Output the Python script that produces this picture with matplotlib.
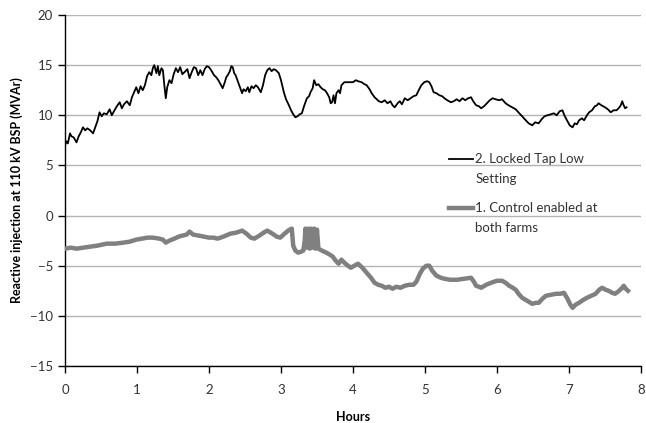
import matplotlib
matplotlib.use("Agg")
import matplotlib.pyplot as plt
from matplotlib.legend_handler import HandlerLine2D

# series 2: locked tap, low setting
locked_h = [0.00, 0.02, 0.04, 0.07, 0.09, 0.12, 0.16, 0.19, 0.22, 0.25, 0.28, 0.31, 0.35, 0.39,
            0.42, 0.45, 0.48, 0.51, 0.54, 0.58, 0.62, 0.65, 0.68, 0.72, 0.76, 0.79, 0.82, 0.86,
            0.90, 0.93, 0.96, 0.99, 1.02, 1.05, 1.08, 1.11, 1.14, 1.17, 1.20, 1.22, 1.24, 1.27,
            1.29, 1.31, 1.34, 1.36, 1.38, 1.40, 1.42, 1.45, 1.48, 1.51, 1.54, 1.57, 1.60, 1.63,
            1.66, 1.70, 1.73, 1.76, 1.79, 1.82, 1.85, 1.88, 1.91, 1.94, 1.97, 2.00, 2.03, 2.07,
            2.10, 2.13, 2.16, 2.19, 2.22, 2.24, 2.26, 2.29, 2.31, 2.33, 2.35, 2.37, 2.40, 2.43,
            2.46, 2.48, 2.51, 2.54, 2.56, 2.59, 2.62, 2.65, 2.68, 2.72, 2.75, 2.78, 2.81, 2.84,
            2.87, 2.90, 2.93, 2.97, 3.00, 3.04, 3.07, 3.11, 3.14, 3.17, 3.20, 3.23, 3.26, 3.29,
            3.32, 3.36, 3.39, 3.41, 3.44, 3.46, 3.49, 3.52, 3.55, 3.58, 3.61, 3.64, 3.67, 3.69,
            3.71, 3.73, 3.75, 3.77, 3.80, 3.82, 3.84, 3.88, 3.91, 3.95, 4.00, 4.04, 4.07, 4.12,
            4.16, 4.19, 4.23, 4.26, 4.30, 4.33, 4.36, 4.40, 4.44, 4.48, 4.52, 4.55, 4.58, 4.62,
            4.65, 4.68, 4.72, 4.76, 4.80, 4.84, 4.88, 4.92, 4.95, 4.99, 5.03, 5.06, 5.09, 5.12,
            5.16, 5.20, 5.24, 5.27, 5.31, 5.36, 5.40, 5.44, 5.48, 5.52, 5.56, 5.60, 5.64, 5.67,
            5.71, 5.75, 5.78, 5.82, 5.86, 5.90, 5.94, 5.98, 6.03, 6.07, 6.12, 6.16, 6.21, 6.26,
            6.31, 6.35, 6.40, 6.44, 6.49, 6.53, 6.58, 6.62, 6.66, 6.70, 6.75, 6.79, 6.83, 6.87,
            6.91, 6.93, 6.95, 6.98, 7.01, 7.05, 7.08, 7.11, 7.14, 7.18, 7.21, 7.25, 7.28, 7.32,
            7.36, 7.39, 7.41, 7.45, 7.50, 7.54, 7.58, 7.62, 7.66, 7.69, 7.72, 7.74, 7.76, 7.78,
            7.80]
locked_q = [7.0, 7.4, 7.2, 8.2, 7.9, 7.8, 7.3, 7.9, 8.3, 8.8, 8.5, 8.7, 8.5, 8.2,
            8.8, 9.4, 10.3, 9.9, 10.2, 10.1, 10.6, 10.0, 10.4, 10.9, 11.3, 10.7, 11.1, 11.4,
            11.0, 11.8, 12.3, 12.8, 12.2, 12.9, 12.5, 13.0, 13.9, 14.3, 14.0, 14.7, 15.0, 14.2,
            14.9, 14.0, 14.7, 14.5, 13.0, 11.7, 12.8, 13.5, 13.2, 14.1, 14.7, 14.3, 14.8, 14.1,
            14.3, 14.6, 13.7, 14.3, 14.8, 14.7, 14.0, 14.5, 14.0, 14.6, 14.9, 14.8, 14.5, 14.0,
            13.8, 13.5, 13.1, 12.7, 13.3, 13.8, 14.0, 14.4, 14.9, 14.8, 14.2, 14.0, 13.4, 12.8,
            12.2, 12.6, 12.4, 12.8, 12.3, 12.9, 12.7, 13.0, 12.8, 12.3, 13.0, 14.0, 14.5, 14.7,
            14.4, 14.6, 14.5, 14.2, 13.5, 12.3, 11.6, 11.0, 10.5, 10.1, 9.8, 9.9, 10.1, 10.2,
            10.9, 11.7, 11.9, 12.3, 12.7, 13.5, 13.0, 13.1, 12.8, 12.6, 12.5, 12.2, 11.8, 11.2,
            11.3, 12.0, 11.2, 12.2, 12.5, 12.2, 13.0, 13.3, 13.3, 13.3, 13.3, 13.5, 13.4, 13.3,
            13.1, 13.0, 12.6, 12.2, 11.8, 11.6, 11.4, 11.3, 11.5, 11.2, 11.4, 11.0, 10.8, 11.2,
            11.4, 11.1, 11.7, 11.5, 11.7, 11.9, 12.0, 12.6, 13.0, 13.3, 13.4, 13.3, 12.9, 12.3,
            12.2, 12.0, 11.9, 11.7, 11.5, 11.3, 11.4, 11.6, 11.4, 11.7, 11.5, 11.7, 11.8, 11.4,
            11.0, 10.9, 10.7, 10.9, 11.2, 11.5, 11.7, 11.6, 11.5, 11.6, 11.2, 11.0, 10.8, 10.6,
            10.2, 9.9, 9.5, 9.2, 9.0, 9.3, 9.2, 9.6, 9.9, 10.0, 10.1, 10.2, 10.0, 10.4,
            10.5, 10.1, 9.8, 9.4, 9.0, 8.8, 9.2, 9.1, 9.5, 9.7, 9.5, 10.0, 10.3, 10.5,
            10.9, 11.0, 11.2, 11.0, 10.8, 10.6, 10.3, 10.5, 10.5, 10.7, 11.0, 11.4, 11.0, 10.7,
            10.8]

# series 1: control enabled at both farms
control_h = [0.00, 0.08, 0.16, 0.25, 0.35, 0.45, 0.58, 0.70, 0.81, 0.90, 0.99, 1.07, 1.15, 1.22,
             1.31, 1.36, 1.40, 1.45, 1.52, 1.58, 1.63, 1.69, 1.73, 1.78, 1.86, 1.93, 2.00, 2.06,
             2.12, 2.20, 2.30, 2.38, 2.46, 2.52, 2.58, 2.63, 2.70, 2.76, 2.81, 2.88, 2.94, 2.99,
             3.05, 3.10, 3.15, 3.17, 3.20, 3.24, 3.28, 3.31, 3.33, 3.34, 3.36, 3.38, 3.40, 3.42,
             3.44, 3.46, 3.48, 3.50, 3.52, 3.57, 3.63, 3.68, 3.72, 3.76, 3.80, 3.84, 3.88, 3.93,
             3.97, 4.02, 4.07, 4.13, 4.19, 4.25, 4.30, 4.35, 4.40, 4.45, 4.50, 4.55, 4.60, 4.66,
             4.72, 4.78, 4.84, 4.88, 4.93, 4.97, 5.02, 5.06, 5.10, 5.16, 5.22, 5.27, 5.35, 5.45,
             5.55, 5.64, 5.68, 5.71, 5.75, 5.78, 5.85, 5.92, 6.00, 6.07, 6.12, 6.17, 6.22, 6.26,
             6.30, 6.35, 6.42, 6.49, 6.54, 6.58, 6.63, 6.68, 6.75, 6.82, 6.88, 6.93, 6.98, 7.02,
             7.05, 7.09, 7.14, 7.20, 7.25, 7.31, 7.37, 7.42, 7.46, 7.51, 7.55, 7.60, 7.64, 7.68,
             7.71, 7.74, 7.76, 7.79, 7.82]
control_q = [-3.3, -3.2, -3.3, -3.2, -3.1, -3.0, -2.8, -2.8, -2.7, -2.6, -2.4, -2.3, -2.2, -2.2,
             -2.3, -2.4, -2.7, -2.5, -2.3, -2.1, -2.0, -1.9, -1.6, -1.9, -2.0, -2.1, -2.2, -2.2,
             -2.3, -2.1, -1.8, -1.7, -1.5, -1.8, -2.2, -2.3, -2.0, -1.7, -1.5, -1.8, -2.1, -2.2,
             -1.8, -1.5, -1.3, -3.0, -3.5, -3.7, -3.6, -3.5, -2.5, -1.3, -3.2, -1.3, -3.3, -1.3,
             -3.2, -1.3, -3.3, -1.4, -3.3, -3.5, -3.7, -3.9, -4.1, -4.5, -4.8, -4.4, -4.7, -5.0,
             -5.2, -5.0, -4.8, -5.2, -5.7, -6.2, -6.7, -6.9, -7.0, -7.2, -7.1, -7.3, -7.1, -7.2,
             -7.0, -6.9, -6.9, -6.6, -5.8, -5.3, -5.0, -5.0, -5.5, -6.0, -6.2, -6.3, -6.4, -6.4,
             -6.3, -6.2, -6.6, -7.0, -7.1, -7.2, -6.9, -6.7, -6.5, -6.5, -6.7, -7.0, -7.2, -7.4,
             -7.8, -8.2, -8.5, -8.8, -8.7, -8.7, -8.3, -8.0, -7.9, -7.8, -7.8, -7.7, -8.3, -8.9,
             -9.2, -8.9, -8.7, -8.4, -8.2, -8.0, -7.8, -7.4, -7.2, -7.4, -7.5, -7.7, -7.8, -7.6,
             -7.4, -7.2, -7.0, -7.3, -7.5]

label_locked = "2. Locked Tap Low\nSetting"
label_control = "1. Control enabled at\nboth farms"


# legend marker sits on the first line of a two-line label (Excel style)
class FirstLineHandler(HandlerLine2D):
    def create_artists(self, legend, orig_handle, xdescent, ydescent,
                       width, height, fontsize, trans):
        return super().create_artists(legend, orig_handle, xdescent, ydescent - 15.0,
                                      width, height, fontsize, trans)


plt.rcParams['font.family'] = ['Lato', 'DejaVu Sans']

fig = plt.figure(figsize=(6.46, 4.23), dpi=100)
ax = fig.add_axes([0.1006, 0.1348, 0.8916, 0.8297])

l2, = ax.plot(locked_h, locked_q, color='black', linewidth=1.3, label=label_locked, zorder=3)
l1, = ax.plot(control_h, control_q, color='#808080', linewidth=3.2, label=label_control, zorder=3)

ax.set_xlim(0, 8)
ax.set_ylim(-15, 20)
ax.set_xticks(range(0, 9))
ax.set_yticks(range(-15, 21, 5))
ax.grid(axis='y', color='#b4b4b4', linewidth=1.0)
ax.set_axisbelow(True)
for s in ['top', 'right']:
    ax.spines[s].set_visible(False)
for s in ['left', 'bottom']:
    ax.spines[s].set_color('black')
    ax.spines[s].set_linewidth(1.0)
ax.tick_params(axis='both', direction='out', length=5, width=1, labelsize=9.5,
               colors='black', labelcolor='#333333')
ax.tick_params(axis='x', pad=8)

ax.set_xlabel('Hours', fontsize=9, fontweight='bold', labelpad=11)
ax.set_ylabel('Reactive injection at 110 kV BSP (MVAr)', fontsize=9, fontweight='bold', labelpad=5)

leg = ax.legend(loc='upper left', bbox_to_anchor=(0.646, 0.64), frameon=False,
                fontsize=9.5, handlelength=1.8, handletextpad=0.2, labelspacing=1.3,
                handler_map={l1: FirstLineHandler(), l2: FirstLineHandler()})
for t in leg.get_texts():
    t.set_color('#333333')
    t.set_linespacing(1.8)

fig.savefig('out.png', dpi=100)
